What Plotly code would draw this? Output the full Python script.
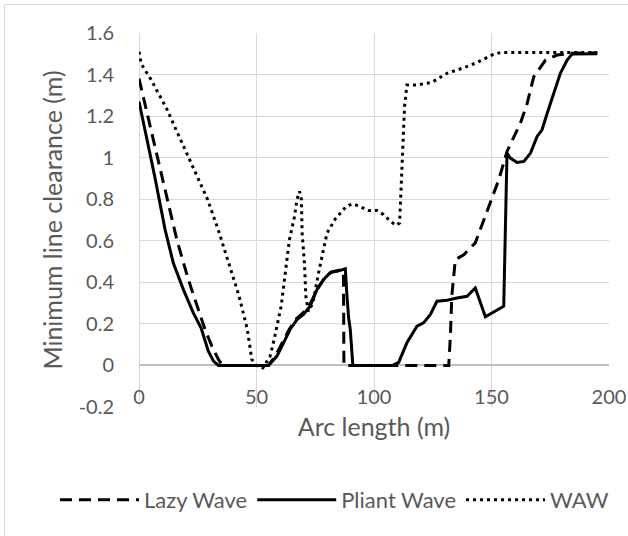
import plotly.graph_objects as go

# ---- data ----
lazy_x = [0, 14.6, 16.1, 21, 25.3, 28.1, 31, 33.8, 35.5, 55, 58, 61, 64, 67, 70, 73, 76, 79, 82, 86,
          87, 87.2, 131.8, 132.5, 133.1, 134.6, 138.2, 143.1, 149.5, 153.1, 156.6, 160.2, 162.3,
          165.2, 168, 173, 177.9, 183.6, 195]
lazy_y = [1.38, 0.669, 0.605, 0.413, 0.269, 0.173, 0.093, 0.029, 0, 0, 0.045, 0.11, 0.175, 0.225,
          0.255, 0.3, 0.37, 0.42, 0.45, 0.46, 0.45, 0, 0, 0.141, 0.333, 0.509, 0.533, 0.59, 0.782,
          0.894, 1.03, 1.118, 1.166, 1.262, 1.39, 1.47, 1.494, 1.502, 1.505]

pliant_x = [0, 6.6, 11.1, 14.6, 18.9, 23.1, 26.4, 27.4, 29.5, 31.7, 33.8, 55.1, 58.7, 61.5, 64.3,
            67.2, 70, 72.8, 75.7, 78.5, 81.4, 84.2, 87.8, 88.5, 89.2, 89.9, 91, 108, 110.5, 114,
            118.3, 121.1, 124, 126.8, 131.1, 135.3, 139.6, 143.1, 147.4, 155.2, 156.6, 158, 160.9,
            163.8, 166.6, 169.4, 171.5, 173.7, 176.5, 179.3, 182.2, 184.3, 195]
pliant_y = [1.27, 0.915, 0.654, 0.493, 0.365, 0.253, 0.181, 0.141, 0.069, 0.021, 0, 0, 0.045,
            0.109, 0.173, 0.221, 0.245, 0.285, 0.365, 0.413, 0.448, 0.453, 0.465, 0.333, 0.229,
            0.173, 0, 0, 0.015, 0.109, 0.189, 0.205, 0.245, 0.309, 0.314, 0.325, 0.333, 0.373,
            0.234, 0.285, 1.022, 0.998, 0.977, 0.982, 1.022, 1.102, 1.134, 1.214, 1.31, 1.406,
            1.47, 1.499, 1.5]

waw_x = [0, 1.0, 5.1, 11.8, 17.5, 23.4, 29.1, 33.8, 38.3, 42.6, 46.1, 48.0, 50, 52.7, 55.8, 57.5,
         60.5, 62.3, 64.0, 66.2, 67.2, 68.3, 69.1, 69.4, 70.4, 71.0, 72.0, 74.0, 76.4, 80.0, 83.5,
         88.2, 91.0, 94.4, 97.7, 101.2, 104.1, 106.9, 109.5, 110.9, 111.2, 111.9, 113.0, 114.0,
         118.3, 124.7, 131.1, 137.5, 143.9, 150.2, 153.8, 195]
waw_y = [1.51, 1.45, 1.376, 1.235, 1.091, 0.947, 0.801, 0.65, 0.493, 0.333, 0.173, 0.029, 0.0,
         -0.012, 0.045, 0.125, 0.285, 0.445, 0.605, 0.718, 0.798, 0.838, 0.798, 0.641, 0.493,
         0.333, 0.26, 0.3, 0.445, 0.637, 0.705, 0.766, 0.778, 0.762, 0.746, 0.746, 0.726, 0.694,
         0.674, 0.686, 0.766, 0.926, 1.246, 1.35, 1.35, 1.363, 1.406, 1.43, 1.458, 1.494, 1.506,
         1.506]

x_ticks = [0, 50, 100, 150, 200]
x_tick_text = ["0", "50", "100", "150", "200"]
y_ticks = [-0.2, 0, 0.2, 0.4, 0.6, 0.8, 1.0, 1.2, 1.4, 1.6]
y_tick_text = ["-0.2", "0", "0.2", "0.4", "0.6", "0.8", "1", "1.2", "1.4", "1.6"]

TXT = "#595959"
GRID = "#d9d9d9"
FONT = "Lato"
TICK_FS = 20
TITLE_FS = 25
LEG_FS = 22

fig = go.Figure()
fig.add_trace(go.Scatter(x=lazy_x, y=lazy_y, mode="lines", name="Lazy Wave",
                         line=dict(color="black", width=3, dash="12px,7px")))
fig.add_trace(go.Scatter(x=pliant_x, y=pliant_y, mode="lines", name="Pliant Wave",
                         line=dict(color="black", width=3)))
fig.add_trace(go.Scatter(x=waw_x, y=waw_y, mode="lines", name="WAW",
                         line=dict(color="black", width=3, dash="3px,4px")))

W, H = 628, 536
ML, MR, MT, MB = 139, 19, 33, 129
PW, PH = W - ML - MR, H - MT - MB

fig.update_layout(
    width=W, height=H,
    margin=dict(l=ML, r=MR, t=MT, b=MB, autoexpand=False),
    paper_bgcolor="white", plot_bgcolor="white",
    font=dict(family=FONT, size=TICK_FS, color=TXT),
    showlegend=True,
    legend=dict(orientation="h", x=(55 - ML) / PW, xanchor="left",
                y=(H - MB - 500) / PH, yanchor="middle",
                itemwidth=79, font=dict(size=LEG_FS, color=TXT),
                bgcolor="rgba(0,0,0,0)"),
    xaxis=dict(range=[0, 200], tickvals=x_ticks, ticktext=x_tick_text, automargin=False,
               showgrid=True, gridcolor=GRID, gridwidth=1,
               zeroline=True, zerolinecolor=GRID, zerolinewidth=1,
               showline=False, anchor="free", position=0.2 / 1.8,
               ticks="outside", ticklen=14, tickcolor="rgba(0,0,0,0)",
               tickfont=dict(size=TICK_FS, color=TXT),
               title=dict(text="Arc length (m)", font=dict(size=TITLE_FS, color=TXT), standoff=11)),
    yaxis=dict(range=[-0.2, 1.6], tickvals=y_ticks, ticktext=y_tick_text, automargin=False,
               showgrid=True, gridcolor=GRID, gridwidth=1,
               zeroline=True, zerolinecolor="#bfbfbf", zerolinewidth=1.5,
               showline=False, ticks="outside", ticklen=20, tickcolor="rgba(0,0,0,0)",
               tickfont=dict(size=TICK_FS, color=TXT),
               title=dict(text="Minimum line clearance (m)", font=dict(size=TITLE_FS, color=TXT),
                          standoff=8)),
)

fig.add_shape(type="rect", xref="paper", yref="paper",
              x0=(4.5 - ML) / PW, x1=(W + 20 - ML) / PW,
              y0=(H - MB - (H + 20)) / PH, y1=(H - MB - 4.5) / PH,
              line=dict(color=GRID, width=1), fillcolor="rgba(0,0,0,0)", layer="below")

fig.write_html("out.html", config={"displayModeBar": False},
               post_script="document.body.style.margin='0';document.body.style.padding='0';")
